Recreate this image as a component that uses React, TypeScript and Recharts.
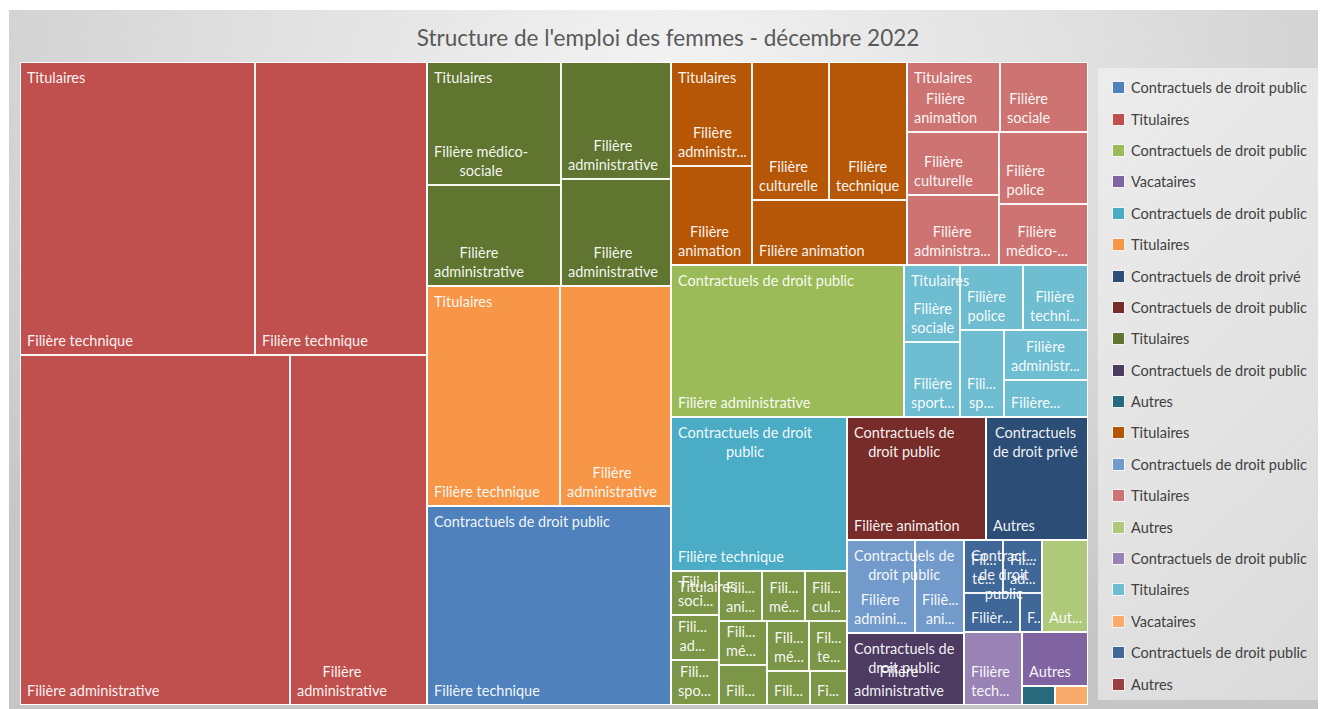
import React from "react";
import { Treemap } from "recharts";

// statut (niveau 1) dans l'ordre de la légende Excel
const statusNames = [
  "Contractuels de droit public",
  "Titulaires",
  "Contractuels de droit public",
  "Vacataires",
  "Contractuels de droit public",
  "Titulaires",
  "Contractuels de droit privé",
  "Contractuels de droit public",
  "Titulaires",
  "Contractuels de droit public",
  "Autres",
  "Titulaires",
  "Contractuels de droit public",
  "Titulaires",
  "Autres",
  "Contractuels de droit public",
  "Titulaires",
  "Vacataires",
  "Contractuels de droit public",
  "Autres",
  "Titulaires",
];

const statusColors = [
  "#4F81BD", "#C0504D", "#9BBB59", "#8064A2", "#4BACC6", "#F79646",
  "#2C4D75", "#772C2A", "#5F7530", "#4D3B62", "#276A7C", "#B65708",
  "#729ACA", "#CD7371", "#AFC97A", "#9983B5", "#6FBDD1", "#F9AB6B",
  "#3F6797", "#9A403E", "#7C9647",
];

// filières (niveau 2) de chaque statut : [nom, effectif]
const s0: [string, number][] = [["Filière technique", 4811]];
const s1: [string, number][] = [
  ["Filière technique", 6827],
  ["Filière technique", 5010],
  ["Filière administrative", 9380],
  ["Filière administrative", 4760],
];
const s2: [string, number][] = [["Filière administrative", 3518]];
const s3: [string, number][] = [["Autres", 353]];
const s4: [string, number][] = [["Filière technique", 2695]];
const s5: [string, number][] = [
  ["Filière technique", 2904],
  ["Filière administrative", 2442],
];
const s6: [string, number][] = [["Autres", 1257]];
const s7: [string, number][] = [["Filière animation", 1696]];
const s8: [string, number][] = [
  ["Filière médico-sociale", 1636],
  ["Filière administrative", 1330],
  ["Filière administrative", 1276],
  ["Filière administrative", 1177],
];
const s9: [string, number][] = [["Filière administrative", 837]];
const s10: [string, number][] = [["Filière technique", 63]];
const s11: [string, number][] = [
  ["Filière administrative", 834],
  ["Filière animation", 794],
  ["Filière culturelle", 1061],
  ["Filière technique", 1061],
  ["Filière animation", 1014],
];
const s12: [string, number][] = [
  ["Filière administrative", 624],
  ["Filière animation", 455],
];
const s13: [string, number][] = [
  ["Filière animation", 642],
  ["Filière sociale", 605],
  ["Filière culturelle", 576],
  ["Filière administrative", 639],
  ["Filière police", 637],
  ["Filière médico-sociale", 540],
];
const s14: [string, number][] = [["Autres", 426]];
const s15: [string, number][] = [["Filière technique", 418]];
const s16: [string, number][] = [
  ["Filière sociale", 431],
  ["Filière sportive", 422],
  ["Filière police", 408],
  ["Filière technique", 418],
  ["Filière sportive", 385],
  ["Filière administrative", 418],
  ["Filière culturelle", 312],
];
const s17: [string, number][] = [["Autres", 63]];
const s18: [string, number][] = [
  ["Filière technique", 207],
  ["Filière administrative", 201],
  ["Filière animation", 218],
  ["Filière culturelle", 87],
];
const s19: [string, number][] = [["Autres", 30]];
const s20: [string, number][] = [
  ["Filière sociale", 211],
  ["Filière administrative", 214],
  ["Filière sportive", 211],
  ["Filière animation", 214],
  ["Filière médico-sociale", 211],
  ["Filière culturelle", 214],
  ["Filière médico-sociale", 210],
  ["Filière culturelle", 189],
  ["Filière médico-sociale", 210],
  ["Filière technique", 189],
  ["Filière technique", 146],
  ["Filière culturelle", 120],
];

const filieres = [
  s0, s1, s2, s3, s4, s5, s6, s7, s8, s9, s10,
  s11, s12, s13, s14, s15, s16, s17, s18, s19, s20,
];

const LEGEND_COUNT = 20; // Excel coupe la légende

const total = (l: [string, number][]) => l.reduce((a, [, v]) => a + v, 0);

// Excel trie les groupes par taille décroissante
const treeData = statusNames
  .map((name, i) => ({
    name,
    color: statusColors[i],
    children: filieres[i].map(([n, v]) => ({ name: n, value: v, color: statusColors[i] })),
    sum: total(filieres[i]),
  }))
  .sort((a, b) => b.sum - a.sum);

const FONT = "Lato, 'Open Sans', sans-serif";
const FS = 14.5;
const LH = 19;

const ctx =
  typeof document !== "undefined" ? document.createElement("canvas").getContext("2d") : null;

function tw(s: string): number {
  if (!ctx) return s.length * 7;
  ctx.font = `${FS}px Lato`;
  return ctx.measureText(s).width;
}

function cut(s: string, maxW: number): string {
  let t = s;
  while (t.length > 1 && tw(t + "...") > maxW) t = t.slice(0, -1);
  return t + "...";
}

function wrapLines(text: string, maxW: number, maxLines: number): string[] {
  const tokens: string[] = [];
  text.split(" ").forEach((w) => {
    const parts = w.split("-");
    parts.forEach((p, i) => tokens.push(i < parts.length - 1 ? p + "-" : p));
  });
  let lines: string[] = [];
  let cur = "";
  tokens.forEach((tok) => {
    const joined = cur ? (cur.endsWith("-") ? cur + tok : cur + " " + tok) : tok;
    if (tw(joined) <= maxW) cur = joined;
    else {
      if (cur) lines.push(cur);
      cur = tok;
    }
  });
  if (cur) lines.push(cur);
  lines = lines.map((l) => (tw(l) <= maxW ? l : cut(l, maxW)));
  if (lines.length > maxLines) {
    lines = lines.slice(0, maxLines);
    const last = lines[maxLines - 1];
    if (!last.endsWith("...")) lines[maxLines - 1] = cut(last, maxW);
  }
  return lines;
}

function TextBlock({ lines, x, yFirst }: { lines: string[]; x: number; yFirst: number }) {
  const blockW = Math.max(...lines.map(tw));
  return (
    <g>
      {lines.map((l, i) => (
        <text
          key={i}
          x={lines.length === 1 ? x : x + blockW / 2}
          y={yFirst + i * LH}
          textAnchor={lines.length === 1 ? "start" : "middle"}
          fill="#ffffff"
          fillOpacity={0.95}
          fontSize={FS}
          fontFamily={FONT}
        >
          {l}
        </text>
      ))}
    </g>
  );
}

function Cells(props: any) {
  const { depth, x, y, width, height, color, name } = props;
  if (depth === 1) {
    return <rect x={x} y={y} width={width} height={height} fill={color} stroke="#fff" strokeWidth={2} />;
  }
  if (depth !== 2) return <g />;
  const maxLines = Math.floor((height - 6) / LH);
  const lines = width > 14 && maxLines > 0 ? wrapLines(name, width - 12, maxLines) : [];
  return (
    <g>
      <rect x={x} y={y} width={width} height={height} fill="none" stroke="#fff" strokeWidth={1.5} />
      {lines.length > 0 && (
        <TextBlock lines={lines} x={x + 7} yFirst={y + height - 9 - (lines.length - 1) * LH} />
      )}
    </g>
  );
}

function GroupLabels(props: any) {
  const { depth, x, y, width, height, name } = props;
  if (depth !== 1 || height < 70 || width < 60) return <g />;
  const maxLines = Math.floor((height - 8) / LH);
  const lines = wrapLines(name, width - 12, Math.min(maxLines, 3));
  return <TextBlock lines={lines} x={x + 7} yFirst={y + 21} />;
}

export default function App() {
  return (
    <div style={{ position: "relative", width: 1318, height: 701, overflow: "hidden" }}>
      <div
        style={{
          position: "absolute",
          left: 1,
          top: 2,
          right: 0,
          bottom: 0,
          background:
            "radial-gradient(ellipse 70% 90% at 50% 10%, #f3f3f3 0%, #e0e0e0 45%, #c6c6c6 100%)",
        }}
      />
      <div
        style={{
          position: "absolute",
          left: 0,
          top: 16,
          width: 1320,
          textAlign: "center",
          fontFamily: FONT,
          fontSize: 22.5,
          lineHeight: "28px",
          color: "#595959",
        }}
      >
        Structure de l'emploi des femmes - décembre 2022
      </div>
      <div style={{ position: "absolute", left: 12, top: 54 }}>
        <Treemap
          width={1068}
          height={643}
          data={treeData}
          dataKey="value"
          aspectRatio={1}
          isAnimationActive={false}
          content={(p: any) => <Cells {...p} />}
        />
      </div>
      <div style={{ position: "absolute", left: 12, top: 54, pointerEvents: "none" }}>
        <Treemap
          width={1068}
          height={643}
          data={treeData}
          dataKey="value"
          aspectRatio={1}
          isAnimationActive={false}
          content={(p: any) => <GroupLabels {...p} />}
        />
      </div>
      <div
        style={{
          position: "absolute",
          left: 1090,
          top: 60,
          width: 220,
          height: 632,
          background: "linear-gradient(135deg, #ececec 0%, #e2e2e2 60%, #dadada 100%)",
          boxSizing: "border-box",
          paddingTop: 4,
        }}
      >
        {statusNames.slice(0, LEGEND_COUNT).map((n, i) => (
          <div
            key={i}
            style={{ height: 31.4, display: "flex", alignItems: "center", paddingLeft: 14 }}
          >
            <span
              style={{
                width: 11,
                height: 11,
                background: statusColors[i],
                border: "1px solid #f4f4f4",
                marginRight: 6,
                flexShrink: 0,
              }}
            />
            <span style={{ fontFamily: FONT, fontSize: FS, color: "#404040", whiteSpace: "nowrap" }}>
              {n}
            </span>
          </div>
        ))}
      </div>
    </div>
  );
}
